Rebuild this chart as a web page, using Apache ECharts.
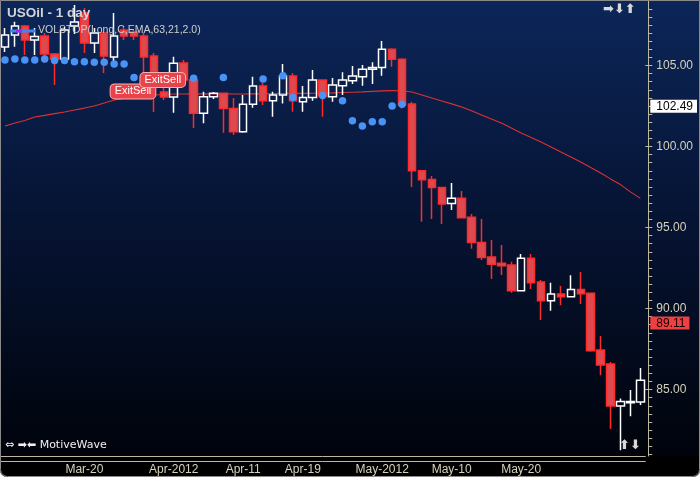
<!DOCTYPE html>
<html><head><meta charset="utf-8">
<script src="https://cdn.jsdelivr.net/npm/echarts@6/dist/echarts.min.js"></script>
<style>
html,body{margin:0;padding:0;background:#ffffff;}
#c{width:700px;height:477px;border-radius:0 0 7px 7px;overflow:hidden;}
</style></head><body><div id="c"></div>
<script>
const dates = ['2012-03-08','2012-03-09','2012-03-12','2012-03-13','2012-03-14','2012-03-15','2012-03-16','2012-03-19','2012-03-20','2012-03-21','2012-03-22','2012-03-23','2012-03-26','2012-03-27','2012-03-28','2012-03-29','2012-03-30','2012-04-02','2012-04-03','2012-04-04','2012-04-05','2012-04-06','2012-04-09','2012-04-10','2012-04-11','2012-04-12','2012-04-13','2012-04-16','2012-04-17','2012-04-18','2012-04-19','2012-04-20','2012-04-23','2012-04-24','2012-04-25','2012-04-26','2012-04-27','2012-04-30','2012-05-01','2012-05-02','2012-05-03','2012-05-04','2012-05-07','2012-05-08','2012-05-09','2012-05-10','2012-05-11','2012-05-14','2012-05-15','2012-05-16','2012-05-17','2012-05-18','2012-05-21','2012-05-22','2012-05-23','2012-05-24','2012-05-25','2012-05-28','2012-05-29','2012-05-30','2012-05-31','2012-06-01','2012-06-04','2012-06-05','2012-06-06'];
const opens = [106.14,106.88,107.44,106.57,106.82,105.71,105.40,107.44,108.24,106.39,107.00,105.52,107.19,107.06,106.82,105.58,103.36,103.05,105.15,104.10,102.05,103.07,103.28,102.35,100.91,102.60,103.73,102.82,103.18,104.35,102.76,103.03,104.10,103.07,103.75,104.06,104.31,104.76,104.88,106.00,105.38,102.62,98.50,97.97,97.47,96.48,96.80,95.63,94.08,93.18,92.80,92.68,91.10,93.10,91.63,90.48,90.89,90.73,91.18,90.94,87.44,86.57,83.99,84.18,84.24];
const closes = [106.88,107.44,106.57,106.78,105.71,105.40,107.19,107.68,106.39,107.00,105.58,106.82,106.82,106.82,105.52,104.60,103.05,105.13,104.10,102.05,103.07,103.28,102.35,100.91,102.60,103.73,102.82,103.18,104.35,102.82,103.03,104.10,103.11,103.79,104.10,104.35,104.76,104.88,106.00,105.38,102.56,98.50,97.95,97.47,96.45,96.80,95.61,94.07,93.15,92.74,92.64,91.10,93.10,91.59,90.48,90.89,90.73,91.18,90.91,87.39,86.51,83.99,84.27,84.27,85.58];
const lows = [105.83,106.16,105.65,105.65,105.15,103.79,105.34,106.94,105.77,105.77,104.53,105.21,106.57,106.57,104.55,102.13,102.87,102.08,103.98,101.14,101.43,102.93,100.85,100.71,100.85,102.39,102.56,101.84,102.66,102.15,102.15,102.82,101.84,102.76,103.18,103.85,103.75,103.85,104.37,104.92,102.35,97.50,95.36,95.52,95.21,96.08,95.61,93.69,92.99,91.82,92.07,90.97,91.10,91.20,89.29,89.86,90.21,90.73,90.28,87.33,85.89,82.56,81.26,83.36,84.04];
const highs = [107.31,107.70,107.50,107.31,107.00,105.77,107.37,108.73,108.55,107.31,107.06,108.24,107.37,107.19,107.00,105.77,103.61,105.54,105.34,104.35,103.38,103.36,103.30,102.99,103.18,104.31,103.94,103.38,105.09,104.54,103.73,104.72,104.10,104.23,104.58,104.97,105.03,105.20,106.51,106.06,105.44,102.76,98.50,98.18,97.47,97.74,97.25,95.83,95.52,94.23,93.92,92.89,93.36,93.36,91.76,91.59,91.39,92.06,92.25,90.95,88.30,86.70,84.45,84.97,86.33];
const emaValues = [101.27,101.45,101.60,101.82,101.92,102.03,102.13,102.25,102.37,102.50,102.68,102.87,102.97,103.06,103.12,103.18,103.21,103.24,103.24,103.25,103.25,103.25,103.25,103.24,103.24,103.25,103.25,103.26,103.27,103.28,103.28,103.29,103.30,103.31,103.33,103.35,103.37,103.40,103.43,103.45,103.44,103.36,103.18,102.99,102.81,102.63,102.44,102.20,101.94,101.70,101.45,101.14,100.83,100.55,100.28,99.97,99.66,99.35,99.04,98.70,98.36,98.00,97.65,97.20,96.80];
const volStop = [105.34,105.40,105.34,105.34,105.40,105.30,105.30,105.23,105.23,105.20,105.20,105.09,105.09,104.25,null,null,null,null,null,104.21,null,null,104.25,null,null,null,104.17,null,104.37,103.02,null,null,103.14,null,102.83,101.59,101.27,101.53,101.53,102.50,102.60,null,null,null,null,null,null,null,null,null,null,null,null,null,null,null,null,null,null,null,null,null,null,null,null];
const exitSellDates = ['2012-03-30','2012-04-04'];
const exitSellPrices = [103.40,104.10];
const tickDates = ['2012-03-20','2012-04-02','2012-04-11','2012-04-19','2012-05-01','2012-05-10','2012-05-21','2012-06-01'];
const tickLabels = ['Mar-20','Apr-2012','Apr-11','Apr-19','May-2012','May-10','May-20',''];
const yLabelValues = [85,90,95,100,105];
const tagValues = [102.49,89.11];

const Y_MIN = 80.9, Y_MAX = 109.04;
const AX = '#bdb89e', LBL = '#d6d2bd';
const FONT = '"Liberation Sans", Arial, sans-serif';
const minorTicks = [];
for (let v = 81; v <= 109; v += 0.5) minorTicks.push(v);

const chart = echarts.init(document.getElementById('c'));
const candleData = dates.map((d, i) => [opens[i], closes[i], lows[i], highs[i]]);

chart.setOption({
  animation: false,
  backgroundColor: new echarts.graphic.LinearGradient(0, 0, 0, 1, [
    {offset: 0, color: '#0c2659'},
    {offset: 0.45, color: '#061434'},
    {offset: 0.955, color: '#00030b'},
    {offset: 0.956, color: '#000000'},
    {offset: 1, color: '#000000'}
  ]),
  grid: {left: -3, right: 53, top: 0, bottom: 21},
  xAxis: [{
    type: 'category', data: dates, boundaryGap: true,
    axisLine: {lineStyle: {color: AX, width: 1}},
    axisTick: {alignWithLabel: true, length: 5, interval: (i, v) => tickDates.includes(v), lineStyle: {color: AX}},
    axisLabel: {interval: (i, v) => tickDates.includes(v), formatter: v => tickLabels[tickDates.indexOf(v)] || '',
      color: LBL, fontSize: 12, fontFamily: FONT, margin: 8},
    splitLine: {show: false}
  }, {
    type: 'category', data: dates, boundaryGap: true, position: 'bottom', offset: 5,
    axisLine: {lineStyle: {color: AX, width: 1}}, axisTick: {show: false}, axisLabel: {show: false}, splitLine: {show: false}
  }],
  yAxis: [{
    type: 'value', position: 'right', min: Y_MIN, max: Y_MAX, offset: 3,
    axisLine: {show: true, lineStyle: {color: AX}},
    axisTick: {show: true, customValues: minorTicks, length: 4, lineStyle: {color: AX}},
    axisLabel: {customValues: yLabelValues, formatter: v => Number(v).toFixed(2), color: LBL, fontSize: 12, fontFamily: FONT, margin: 8},
    splitLine: {show: false}
  }, {
    type: 'value', position: 'right', min: Y_MIN, max: Y_MAX, offset: 3,
    axisLine: {show: false},
    axisTick: {show: true, customValues: yLabelValues, inside: true, length: 3, lineStyle: {color: AX}},
    axisLabel: {show: false}, splitLine: {show: false}
  }, {
    type: 'value', position: 'right', min: Y_MIN, max: Y_MAX, offset: 3,
    axisLine: {show: false}, axisTick: {show: false}, splitLine: {show: false},
    axisLabel: {
      customValues: tagValues, margin: 2,
      formatter: v => {
        const k = tagValues.indexOf(Number(v));
        return '{' + (k === 0 ? 'w' : 'r') + '|' + Number(v).toFixed(2) + '}';
      },
      rich: {
        w: {backgroundColor: '#ffffff', color: '#000000', fontSize: 12, fontFamily: FONT, padding: [1, 4, 0, 6], lineHeight: 13},
        r: {backgroundColor: '#ee4040', color: '#1a0000', fontSize: 12, fontFamily: FONT, padding: [1, 4, 0, 6], lineHeight: 13}
      }
    }
  }],
  series: [{
    name: 'EMA', type: 'line', data: emaValues, symbol: 'none', z: 1,
    lineStyle: {color: '#dc3232', width: 1.1}
  }, {
    name: 'USOil', type: 'candlestick', data: candleData, barWidth: 8, z: 2,
    itemStyle: {color: 'rgba(0,0,0,0)', color0: '#dc4a4f', borderColor: '#ffffff', borderColor0: '#ff2a2a', borderWidth: 1.5}
  }, {
    name: 'VOLSTOP', type: 'scatter', data: volStop.map(v => v === null ? '-' : v), z: 3,
    symbolSize: 7.5, itemStyle: {color: '#4893f5', opacity: 1}
  }, {
    name: 'ExitSell', type: 'scatter', z: 5, symbolSize: 1,
    data: exitSellDates.map((d, k) => [d, exitSellPrices[k]]),
    itemStyle: {color: '#e5454c', opacity: 1},
    label: {show: true, position: 'left', distance: 8, formatter: 'ExitSell', opacity: 1,
      color: '#ffffff', fontSize: 11, fontFamily: FONT, textBorderWidth: 0, textShadowBlur: 0,
      backgroundColor: '#e8434a', borderColor: '#f7b0b0', borderWidth: 1, borderRadius: 4, padding: [2, 4, 1, 4]}
  }],
  graphic: [
    {type: 'rect', z: 100, silent: true, shape: {x: 0.5, y: 0.5, width: 699, height: 476, r: [0, 0, 7, 7]},
      style: {fill: 'none', stroke: '#8a8a8a', lineWidth: 1}},
    {type: 'text', left: 7, top: 6, z: 100, style: {text: 'USOil - 1 day', fill: '#d4d4d4', font: 'bold 13.5px ' + FONT}},
    {type: 'line', z: 100, shape: {x1: 10, y1: 31, x2: 35, y2: 31}, style: {stroke: '#3b86f0', lineWidth: 3}},
    {type: 'line', z: 100, shape: {x1: 16, y1: 31, x2: 22, y2: 31}, style: {stroke: '#9a2cf0', lineWidth: 3}},
    {type: 'text', left: 38, top: 25, z: 100, style: {text: 'VOLSTOP(Long,C,EMA,63,21,2.0)', fill: '#cfcfcf', font: '10.5px ' + FONT}},
    {type: 'text', left: 5, top: 440, z: 100, style: {text: '⇔ ➡⬅ MotiveWave', fill: '#f0f0f0', font: '11px "DejaVu Sans", sans-serif'}},
    {type: 'text', left: 603, top: 3, z: 100, style: {text: '➡⬇⬆', fill: '#d8d8d8', font: 'bold 13px "DejaVu Sans", sans-serif'}},
    {type: 'text', left: 619, top: 439, z: 100, style: {text: '⬆⬇', fill: '#d8d8d8', font: 'bold 13px "DejaVu Sans", sans-serif'}}
  ]
});
</script></body></html>
